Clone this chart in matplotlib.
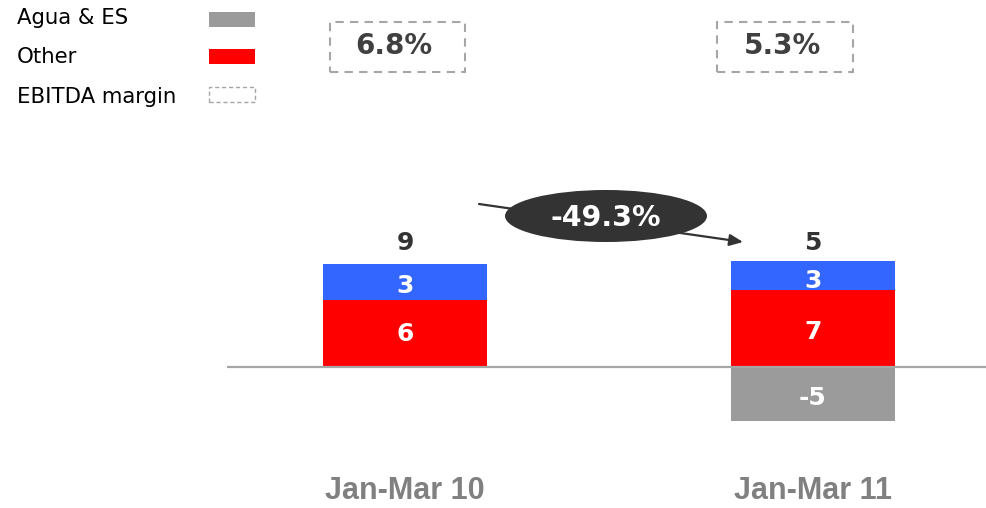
import matplotlib
matplotlib.use("Agg")
import matplotlib.pyplot as plt
from matplotlib.patches import Rectangle, Ellipse

# ---- data ----
categories = ["Jan-Mar 10", "Jan-Mar 11"]
other = [5.9, 6.8]
blue_seg = [3.2, 2.6]
agua = [0.0, -4.8]
margins = ["6.8%", "5.3%"]
change_label = "-49.3%"
legend_labels = ["Agua & ES", "Other", "EBITDA margin"]

C_GRAY = "#9b9b9b"
C_RED = "#ff0000"
C_BLUE = "#3366ff"
C_DARK = "#333333"

W, H = 986, 508
fig = plt.figure(figsize=(W / 100, H / 100), dpi=100)
ax = fig.add_axes([0, 0, 1, 1])
ax.set_axis_off()

PX_PER_CAT = 408.0
X0 = 405.0
PX_PER_UNIT = 11.3
BASE = 367.0
ax.set_xlim(-X0 / PX_PER_CAT, (W - X0) / PX_PER_CAT)
ax.set_ylim(-(H - BASE) / PX_PER_UNIT, BASE / PX_PER_UNIT)

x = list(range(len(categories)))
bw = 164 / PX_PER_CAT
ax.bar(x, other, width=bw, color=C_RED, zorder=2)
ax.bar(x, blue_seg, width=bw, bottom=other, color=C_BLUE, zorder=2)
ax.bar(x, agua, width=bw, color=C_GRAY, zorder=2)

# baseline
ax.plot([(227 - X0) / PX_PER_CAT, (W - X0) / PX_PER_CAT], [0, 0],
        color="#a6a6a6", lw=1.6, zorder=3, solid_capstyle="butt")

OFF = 0.3  # labels sit slightly below segment centre
lab_kw = dict(ha="center", va="center", color="white", fontsize=18,
              fontweight="bold", family="DejaVu Sans", zorder=4)
for i in x:
    ax.text(i, other[i] / 2 - OFF * i, f"{round(other[i]):.0f}", **lab_kw)
    ax.text(i, other[i] + blue_seg[i] / 2 - OFF - 0.2 * i, f"{round(blue_seg[i]):.0f}", **lab_kw)
    if agua[i] != 0:
        ax.text(i, agua[i] / 2 - OFF, f"{round(agua[i]):.0f}", **lab_kw)
    total = other[i] + blue_seg[i] + agua[i]
    ax.text(i, (BASE - 242.5) / PX_PER_UNIT, f"{round(total):.0f}",
            ha="center", va="center", color=C_DARK, fontsize=18,
            fontweight="bold", family="DejaVu Sans")
    ax.text(i, -(491 - BASE) / PX_PER_UNIT, categories[i], ha="center",
            va="center", color="#808080", fontsize=22, fontweight="bold",
            family="Liberation Sans")


def fx(px):
    return px / W


def fy(py):
    return 1 - py / H


# legend
legend_y = [18, 57, 97]
for lab, yy in zip(legend_labels, legend_y):
    fig.text(fx(17), fy(yy), lab, ha="left", va="center", fontsize=15.3,
             color="black", family="DejaVu Sans")
fig.add_artist(Rectangle((fx(209), fy(27)), fx(46), 15 / H, transform=fig.transFigure,
                         facecolor=C_GRAY, edgecolor="none"))
fig.add_artist(Rectangle((fx(209), fy(64)), fx(46), 15 / H, transform=fig.transFigure,
                         facecolor=C_RED, edgecolor="none"))
fig.add_artist(Rectangle((fx(209), fy(102)), fx(46), 15 / H, transform=fig.transFigure,
                         facecolor="none", edgecolor="#a6a6a6", lw=1.0,
                         linestyle=(0, (3, 2))))

# margin boxes
boxes = [(330, 465, 394), (717, 853, 782)]
for (l, r, tc), m in zip(boxes, margins):
    fig.add_artist(Rectangle((fx(l), fy(72)), fx(r - l), 50 / H, transform=fig.transFigure,
                             facecolor="none", edgecolor="#a6a6a6", lw=1.5,
                             linestyle=(0, (4, 3))))
    fig.text(fx(tc), fy(46), m, ha="center", va="center", fontsize=20,
             fontweight="bold", color="#404040", family="DejaVu Sans")

# change arrow + ellipse
ax.annotate("", xy=(743, H - 242), xytext=(479, H - 204),
            xycoords="figure pixels", textcoords="figure pixels",
            arrowprops=dict(arrowstyle="-|>,head_length=0.8,head_width=0.35",
                            color=C_DARK, lw=1.6, shrinkA=0, shrinkB=0),
            zorder=5)
fig.add_artist(Ellipse((fx(606), fy(216)), fx(202), 52 / H, transform=fig.transFigure,
                       facecolor=C_DARK, edgecolor="none", zorder=6))
fig.text(fx(606), fy(218), change_label, ha="center", va="center", fontsize=20.5,
         fontweight="bold", color="white", family="DejaVu Sans", zorder=7)

fig.savefig("out.png", dpi=100)
